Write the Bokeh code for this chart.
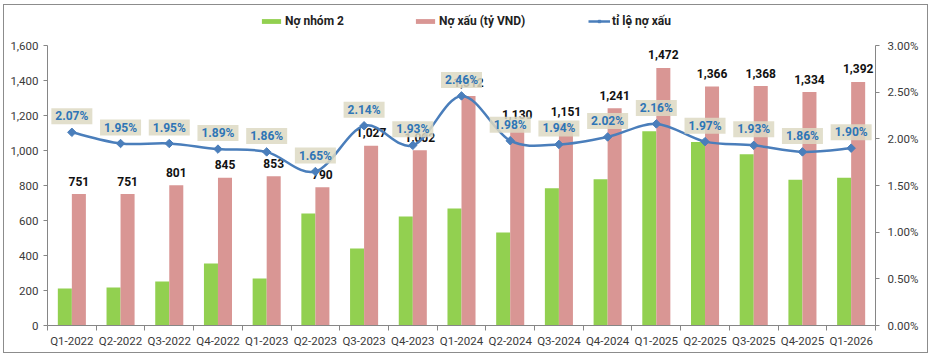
import numpy as np
from bokeh.plotting import figure
from bokeh.models import (ColumnDataSource, Range1d, LinearAxis, FixedTicker,
                          NumeralTickFormatter, PrintfTickFormatter, Legend, LegendItem)
from bokeh.transform import dodge
from bokeh.embed import file_html
from bokeh.resources import INLINE
from bokeh.core.properties import value

# ---------------- data ----------------
categories = ["Q1-2022", "Q2-2022", "Q3-2022", "Q4-2022", "Q1-2023", "Q2-2023",
              "Q3-2023", "Q4-2023", "Q1-2024", "Q2-2024", "Q3-2024", "Q4-2024",
              "Q1-2025", "Q2-2025", "Q3-2025", "Q4-2025", "Q1-2026"]
no_nhom2 = [211, 217, 251, 354, 269, 640, 440, 623, 669, 531, 785, 836,
            1110, 1048, 979, 833, 844]
no_xau = [751, 751, 801, 845, 853, 790, 1027, 1002, 1312, 1130, 1151, 1241,
          1472, 1366, 1368, 1334, 1392]
ti_le = [2.07, 1.95, 1.95, 1.89, 1.86, 1.65, 2.14, 1.93, 2.46, 1.98, 1.94, 2.02,
         2.16, 1.97, 1.93, 1.86, 1.90]
left_ticks = [0, 200, 400, 600, 800, 1000, 1200, 1400, 1600]
right_ticks = [0.0, 0.5, 1.0, 1.5, 2.0, 2.5, 3.0]
legend_labels = ["Nợ nhóm 2", "Nợ xấu (tỷ VND)", "tỉ lệ nợ xấu"]

# ---------------- style ----------------
GREEN = "#92d050"
RED = "#d99694"
LINE = "#4a7ebb"
BOX = "#ddd9c3"
PCT_TEXT = "#2e75b6"
AXIS = "#868686"
TICKTXT = "#3a3a3a"
FONT = "Roboto"

n = len(categories)
xs = np.arange(n) + 0.5
BW = 0.288

# frame extends above the axes (axes bounded) so the legend sits inside the frame
LEFT_MAX = left_ticks[-1]
RIGHT_MAX = right_ticks[-1]
HEAD = 315.0 / 280.0

src = ColumnDataSource(dict(
    x=xs, cat=categories, g=no_nhom2, r=no_xau, t=ti_le,
    rlab=[f"{v:,}" for v in no_xau],
    tlab=[f"{v:.2f}%" for v in ti_le],
))

p = figure(width=925, height=349, output_backend="svg", toolbar_location=None,
           x_range=Range1d(0, n), y_range=Range1d(0, LEFT_MAX * HEAD),
           min_border_left=43, min_border_right=54, min_border_top=5, min_border_bottom=29,
           styles={"border": "1px solid #8c8c8c", "margin-left": "3px", "margin-top": "4px"})
p.extra_y_ranges = {"pct": Range1d(0, RIGHT_MAX * HEAD)}
p.outline_line_color = None
p.xgrid.visible = False
p.ygrid.visible = False
p.xaxis.visible = False
p.yaxis.visible = False
p.background_fill_color = "white"
p.border_fill_color = "white"

# axes
xaxis = LinearAxis(ticker=FixedTicker(ticks=list(xs), minor_ticks=list(range(n + 1))),
                   major_label_overrides={float(x): c for x, c in zip(xs, categories)})
xaxis.minor_tick_out = 5
xaxis.minor_tick_in = 0
xaxis.minor_tick_line_color = AXIS
xaxis.major_label_standoff = 2
p.add_layout(xaxis, "below")

yaxis = LinearAxis(ticker=FixedTicker(ticks=left_ticks, minor_ticks=[]),
                   formatter=NumeralTickFormatter(format="0,0"), bounds=(0, LEFT_MAX))
yaxis.major_tick_out = 4
yaxis.major_tick_in = 0
yaxis.major_label_standoff = 5
p.add_layout(yaxis, "left")

raxis = LinearAxis(y_range_name="pct", ticker=FixedTicker(ticks=right_ticks, minor_ticks=[]),
                   formatter=PrintfTickFormatter(format="%.2f%%"), bounds=(0, RIGHT_MAX))
raxis.major_tick_out = 4
raxis.major_tick_in = 0
raxis.major_label_standoff = 8
p.add_layout(raxis, "right")

for ax in (xaxis, yaxis, raxis):
    ax.axis_line_color = AXIS
    ax.major_tick_line_color = AXIS if ax is not xaxis else None
    ax.major_label_text_font = FONT
    ax.major_label_text_font_size = "11.5px"
    ax.major_label_text_color = TICKTXT

# bars
gbar = p.vbar(x=dodge("x", -BW / 2), top="g", width=BW, source=src,
              fill_color=GREEN, line_color=None)
rbar = p.vbar(x=dodge("x", BW / 2), top="r", width=BW, source=src,
              fill_color=RED, line_color=None)

# red bar value labels
p.text(x=dodge("x", BW / 2), y="r", text="rlab", source=src, text_align="center",
       text_baseline="middle", y_offset=-13, text_font=value(FONT),
       text_font_style="bold", text_font_size="12px", text_color="#111111")

# smoothed ratio line (Catmull-Rom -> cubic bezier through the data points)
P = np.column_stack([xs, np.array(ti_le)])
seg = dict(x0=[], y0=[], x1=[], y1=[], cx0=[], cy0=[], cx1=[], cy1=[])
for i in range(n - 1):
    pm = P[i - 1] if i > 0 else P[i]
    p0, p1 = P[i], P[i + 1]
    p2 = P[i + 2] if i + 2 < n else P[i + 1]
    c0 = p0 + (p1 - pm) / 6.0
    c1 = p1 - (p2 - p0) / 6.0
    for k, v in (("x0", p0[0]), ("y0", p0[1]), ("x1", p1[0]), ("y1", p1[1]),
                 ("cx0", c0[0]), ("cy0", c0[1]), ("cx1", c1[0]), ("cy1", c1[1])):
        seg[k].append(v)
p.bezier(x0="x0", y0="y0", x1="x1", y1="y1", cx0="cx0", cy0="cy0", cx1="cx1", cy1="cy1",
         source=ColumnDataSource(seg), y_range_name="pct", line_color=LINE, line_width=2.5)
mk = p.scatter(x="x", y="t", source=src, y_range_name="pct", marker="square",
               angle=np.pi / 4, size=6, fill_color=LINE, line_color=LINE)

# ratio labels with boxes
p.text(x="x", y="t", text="tlab", source=src, y_range_name="pct", text_align="center",
       text_baseline="middle", y_offset=-16, text_font=value(FONT), text_font_style="bold",
       text_font_size="12px", text_color=PCT_TEXT,
       background_fill_color=BOX, background_fill_alpha=0.85,
       padding=dict(left=4, right=4, top=1, bottom=1))

# legend-only line sample (no visible data in the plot)
leg_line = p.line(x=[np.nan, np.nan], y=[np.nan, np.nan], line_color=LINE, line_width=2.5)

def make_legend(items, loc, gw):
    lg = Legend(items=items, location=loc, orientation="horizontal", padding=0, margin=0,
                border_line_color=None, background_fill_alpha=0, glyph_width=gw,
                glyph_height=6, label_height=6, label_standoff=2,
                label_text_font=FONT, label_text_font_style="bold",
                label_text_font_size="12px", label_text_color="#222222")
    p.add_layout(lg)

make_legend([LegendItem(label=legend_labels[0], renderers=[gbar])], (212, 297), 24)
make_legend([LegendItem(label=legend_labels[1], renderers=[rbar])], (366, 297), 24)
make_legend([LegendItem(label=legend_labels[2], renderers=[leg_line, mk])], (541, 297), 22)

open("out.html", "w").write(file_html(p, INLINE))
